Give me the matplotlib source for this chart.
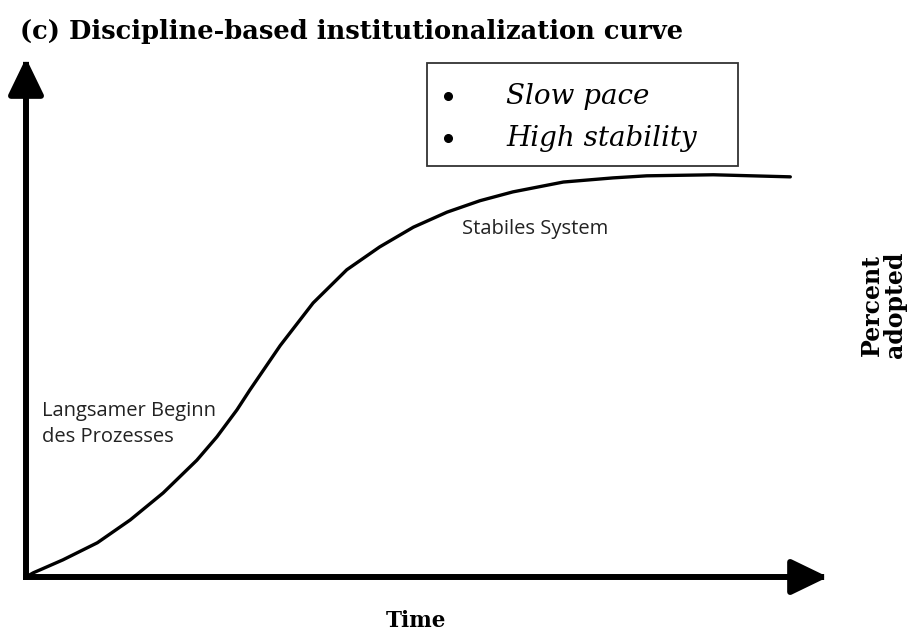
import matplotlib
matplotlib.use("Agg")
import matplotlib.pyplot as plt

# Data (time %, percent adopted)
time = [0, 0.9, 4.6, 8.9, 13.0, 17.1, 21.3, 23.8, 26.3, 27.9, 31.7, 35.8,
        40.0, 44.1, 48.3, 52.5, 56.6, 60.7, 67.0, 73.2, 77.4, 85.7, 95.3]
adopted = [0, 0.8, 3.3, 6.6, 11.0, 16.2, 22.5, 27.0, 32.2, 36.0, 44.6, 52.8,
           59.2, 63.6, 67.4, 70.3, 72.5, 74.2, 76.1, 76.9, 77.3, 77.5, 77.1]

title = "(c) Discipline-based institutionalization curve"
box_items = ["Slow pace", "High stability"]
label_plateau = "Stabiles System"
label_start = "Langsamer Beginn\ndes Prozesses"
xlabel = "Time"
ylabel = "Percent\nadopted"

W, H = 915, 633
fig = plt.figure(figsize=(W / 100, H / 100), dpi=100)
ax = fig.add_axes([0, 0, 1, 1])
ox, oy = 26, 577
sx = (828 - ox) / 100.0
sy = (oy - 58) / 100.0
ax.set_xlim(-ox / sx, (W - ox) / sx)
ax.set_ylim(-(H - oy) / sy, oy / sy)
ax.axis("off")

def px(x, y):
    return ((x - ox) / sx, (oy - y) / sy)

# axes arrows
for tip in [(100, 0), (0, 100)]:
    ax.annotate("", xy=tip, xytext=(0, 0),
                arrowprops=dict(arrowstyle="-|>,head_length=0.62,head_width=0.3",
                                lw=4.3, color="black", mutation_scale=36,
                                shrinkA=0, shrinkB=0, capstyle="projecting"))

ax.plot(time, adopted, color="black", lw=2.4, solid_capstyle="round",
        solid_joinstyle="round")

serif = "DejaVu Serif"
fig.text(20 / W, 1 - 32 / H, title, fontsize=18.5, fontweight="bold",
         family=serif, va="center", ha="left")

# box
x0, y0 = px(427, 166)
x1, y1 = px(738, 63)
ax.add_patch(plt.Rectangle((x0, y0), x1 - x0, y1 - y0, fill=False,
                           ec="#333333", lw=1.3))
for i, item in enumerate(box_items):
    yy = 96 + i * 42
    bx, by = px(448, yy)
    ax.plot([bx], [by], "o", color="black", ms=5.5)
    tx, ty = px(506, yy)
    ax.text(tx, ty, item, fontsize=20, style="italic", family=serif,
            va="center", ha="left")

tx, ty = px(462, 229)
ax.text(tx, ty, label_plateau, fontsize=14.5, family="Open Sans",
        va="center", ha="left", color="#222222")
tx, ty = px(42, 424)
ax.text(tx, ty, label_start, fontsize=14.5, family="Open Sans",
        va="center", ha="left", color="#222222", linespacing=1.35)

tx, ty = px(416, 621)
ax.text(tx, ty, xlabel, fontsize=15.5, fontweight="bold", family=serif,
        va="center", ha="center")
tx, ty = px(883, 305)
ax.text(tx, ty, ylabel, fontsize=17, fontweight="bold", family=serif,
        va="center", ha="center", rotation=90, linespacing=0.95)

fig.savefig("out.png", dpi=100)
